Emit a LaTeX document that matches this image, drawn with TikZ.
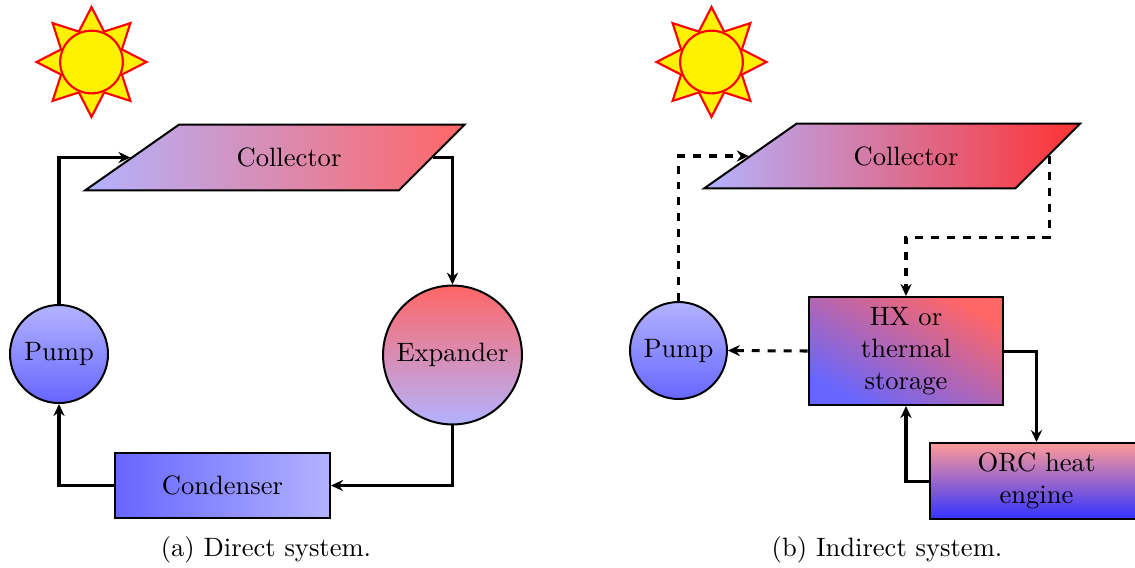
\documentclass[tikz,border=0pt]{standalone}
\usetikzlibrary{shapes.geometric,arrows,arrows.meta}
\tikzset{
  x=0.3765pt,y=-0.3765pt,
  box/.style={draw=black,line width=0.75pt,rectangle,align=center,inner sep=0pt},
  disc/.style={draw=black,line width=0.75pt,circle,inner sep=0pt,align=center},
  coll/.style={draw=black,line width=0.75pt,trapezium,trapezium left angle=35,trapezium right angle=135,
    trapezium stretches body,inner xsep=0pt},
  sunray/.style={draw=red,thick,fill=yellow,star,star points=8,star point ratio=1.67,inner sep=0pt,minimum size=41.4pt},
  sundisc/.style={draw=red,thick,fill=yellow,circle,inner sep=0pt,minimum size=23.6pt},
  flow/.style={line width=1.14pt,-{Stealth[inset=1.5pt,length=4.5pt,width=4.2pt]}},
  flowd/.style={flow,dashed},
  captext/.style={inner sep=0pt}
}
\begin{document}
\begin{tikzpicture}
\useasboundingbox (0,0) rectangle (1135,567);
% (a)
\node[sunray] (s1) at (91.5,62) {};
\node[sundisc] (d1) at (91.5,62) {};
\node[coll,left color=blue!30,right color=red!60,minimum width=143pt,inner ysep=8.78pt] (ca) at (289,157.5) {Collector};
\node[disc,top color=blue!30,bottom color=blue!60,minimum size=36.9pt] (pa) at (59,354) {Pump};
\node[disc,top color=red!60,bottom color=blue!30,minimum size=52.3pt] (ea) at (452.5,355) {Expander};
\node[box,left color=blue!60,right color=blue!30,minimum width=81pt,minimum height=24.5pt] (co) at (222.5,485.5) {Condenser};
\draw[flow] (pa.north) |- (ca.west);
\draw[flow] (ca.east) -| (ea.north);
\draw[flow] (ea.south) |- (co.east);
\draw[flow] (co.west) -| (pa.south);
\node[captext] (la) at (266,550) {(a) Direct system.};
% (b)
\node[sunray] (s2) at (711.5,62) {};
\node[sundisc] (d2) at (711.5,62) {};
\node[coll,left color=blue!30,right color=red!80,minimum width=141.6pt,inner ysep=8.58pt] (cb) at (906,156) {Collector};
\node[disc,top color=blue!30,bottom color=blue!60,minimum size=36.5pt] (pb) at (678.5,350.5) {Pump};
\node[box,top color=red!60,bottom color=blue!60,shading angle=-29,minimum width=73.4pt,minimum height=40.7pt] (hx) at (906,351) {HX or\\thermal\\storage};
\node[box,top color=red!40,bottom color=blue!80,minimum width=80.2pt,minimum height=28.6pt] (orc) at (1036.5,481) {ORC heat\\engine};
\coordinate (m) at (906,237);
\draw[flowd] (pb.north) |- (cb.west);
\draw[flowd] (cb.east) |- (m) -- (hx.north);
\draw[flowd] (hx.west) -- (pb.east);
\draw[flow] (hx.east) -| (orc.north);
\draw[flow] (orc.west) -| (hx.south);
\node[captext] (lb) at (887,550) {(b) Indirect system.};
\end{tikzpicture}
\end{document}
